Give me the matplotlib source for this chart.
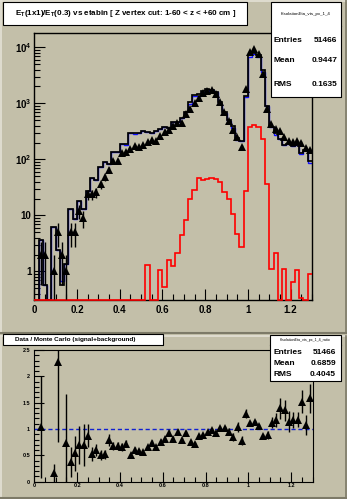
import numpy as np
import matplotlib.pyplot as plt
from matplotlib.patches import Rectangle
from matplotlib.lines import Line2D
from matplotlib.ticker import FixedLocator, FixedFormatter, MultipleLocator, NullFormatter

plt.rcParams['font.family'] = ['Liberation Sans', 'DejaVu Sans']
plt.rcParams['font.weight'] = 'bold'
plt.rcParams['mathtext.fontset'] = 'custom'
plt.rcParams['mathtext.rm'] = 'Liberation Sans:bold'
plt.rcParams['mathtext.it'] = 'Liberation Sans:bold'
plt.rcParams['mathtext.bf'] = 'Liberation Sans:bold'

W, H = 347, 499
BG = '#c3bfa9'

# 65 bins of 0.02 in etabin
edges = np.round(np.arange(66) * 0.02, 2)
centers = edges[:-1] + 0.01

data = np.array([0, 2, 2, 0, 1, 5, 2, 1, 5, 5,
                 12, 9, 24, 24, 26, 36, 48, 66, 93, 93,
                 128, 137, 153, 175, 168, 180, 201, 220, 212, 261,
                 306, 333, 387, 438, 440, 635, 803, 1022, 1256, 1500,
                 1680, 1720, 1460, 1065, 710, 488, 333, 247, 168, 1778,
                 8200, 9200, 7600, 3400, 800, 421, 343, 320, 250, 211,
                 207, 211, 200, 158, 146], dtype=float)

mc = np.array([0, 3.6, 0.57, 0, 6.1, 2.4, 0.57, 1.35, 13.3, 8.5,
               18, 13, 27, 46, 43, 72, 90, 84, 135, 135,
               192, 190, 298, 295, 292, 318, 310, 300, 326, 343,
               373, 358, 470, 460, 550, 690, 1050, 1410, 1440, 1680,
               1770, 1740, 1570, 1055, 705, 515, 392, 238, 215, 1380,
               7300, 8070, 7170, 3900, 900, 376, 293, 230, 184, 185,
               177, 179, 132, 146, 92])

mc_blue = np.array([0, 3.6, 0.57, 0, 6.1, 2.4, 0.68, 1.35, 13.3, 8.5,
                    18, 13, 27, 46, 43, 72, 90, 84, 135, 135,
                    192, 178, 298, 282, 292, 318, 310, 300, 326, 343,
                    373, 358, 470, 460, 550, 690, 990, 1330, 1360, 1590,
                    1680, 1740, 1570, 990, 665, 485, 368, 222, 215, 1300,
                    6850, 7650, 6750, 3650, 900, 376, 278, 230, 184, 185,
                    177, 179, 125, 146, 85])

signal = np.array([0] * 26 + [1.3, 0, 0, 1.05,
                   0.53, 1.59, 1.24, 2.15, 4.4, 8.2, 19.3, 28.3, 47.5, 42.7,
                   44.5, 47.5, 45.6, 40, 26.3, 20, 10.6, 4.6, 2.7, 27,
                   380, 407, 380, 230, 36, 1.13, 2.18, 0, 1.1, 0,
                   0.64, 1.05, 0.34, 0, 0.92])

nan = np.nan
ratio = np.array([nan, 1.04, nan, nan, 0.16, 2.28, nan, 0.74, 0.37, 0.54,
                  0.70, 0.70, 0.87, 0.52, 0.60, 0.51, 0.52, 0.79, 0.68, 0.68,
                  0.66, 0.72, 0.51, 0.60, 0.58, 0.56, 0.65, 0.74, 0.65, 0.76,
                  0.82, 0.93, 0.82, 0.95, 0.80, 0.92, 0.76, 0.72, 0.87, 0.89,
                  0.95, 0.99, 0.93, 1.01, 1.01, 0.95, 0.85, 1.04, 0.78, 1.29,
                  1.12, 1.14, 1.06, 0.87, 0.89, 1.12, 1.17, 1.39, 1.36, 1.14,
                  1.17, 1.18, 1.52, 1.08, 1.58])

ratio_err = np.array([nan, 0.97, nan, nan, 0.17, 1.52, nan, 0.92, 0.28, 0.33,
                      0.36, 0.40, 0.22, 0.13, 0.12, 0.10, 0.09, 0.11, 0.08, 0.08,
                      0.07, 0.07, 0.05, 0.05, 0.05, 0.05, 0.05, 0.06, 0.05, 0.05,
                      0.05, 0.06, 0.05, 0.05, 0.04, 0.04, 0.03, 0.03, 0.03, 0.03,
                      0.03, 0.03, 0.03, 0.04, 0.04, 0.06, 0.08, 0.10, 0.09, 0.09,
                      0.03, 0.03, 0.03, 0.04, 0.07, 0.11, 0.13, 0.20, 0.20, 0.20,
                      0.15, 0.15, 0.22, 0.19, 0.27])

x_ticks = [0, 0.2, 0.4, 0.6, 0.8, 1.0, 1.2]
x_labels = ['0', '0.2', '0.4', '0.6', '0.8', '1', '1.2']

fig = plt.figure(figsize=(W / 100, H / 100), dpi=100, facecolor=BG)


def fx(px):
    return px / W


def fy(py):
    return 1 - py / H


def fline(x0, y0, x1, y1, color, lw=1.0):
    fig.add_artist(Line2D([fx(x0), fx(x1)], [fy(y0), fy(y1)], color=color, lw=lw,
                          transform=fig.transFigure, zorder=1))


def pave(x0, y0, x1, y1):
    # white ROOT-style pave with a thin dark shadow
    fig.add_artist(Rectangle((fx(x0) + 1.2 / W, fy(y1) - 1.2 / H), (x1 - x0) / W, (y1 - y0) / H,
                             transform=fig.transFigure, facecolor='black', edgecolor='none', zorder=5))
    fig.add_artist(Rectangle((fx(x0), fy(y1)), (x1 - x0) / W, (y1 - y0) / H,
                             transform=fig.transFigure, facecolor='white', edgecolor='black',
                             lw=0.8, zorder=6))


def ftext(x, y, s, **kw):
    fig.text(fx(x), fy(y), s, zorder=7, **kw)


# pad bevels
fline(0.5, 0, 0.5, 333, '#e4e1d6', 1.2)
fline(0, 0.5, 347, 0.5, '#e4e1d6', 1.2)
fline(0, 332.5, 347, 332.5, '#7d7a68', 1.5)
fline(346.3, 0, 346.3, 333, '#7d7a68', 1.2)
fline(0.5, 336, 0.5, 499, '#e4e1d6', 1.2)
fline(0, 336, 347, 336, '#e4e1d6', 1.2)
fline(0, 498.3, 347, 498.3, '#7d7a68', 1.5)
fline(346.3, 336, 346.3, 499, '#7d7a68', 1.2)

# ---- top pad: distributions ----
ax1 = fig.add_axes([fx(34.3), fy(300), (312 - 34.3) / W, (300 - 33) / H])
ax1.set_facecolor('none')
ax1.set_yscale('log')
ymin, ymax = 0.31, 18000
ax1.set_xlim(0, 1.3)
ax1.set_ylim(ymin, ymax)

ax1.stairs(np.maximum(mc_blue, ymin), edges, baseline=None, color='#1010ff', lw=1.0, zorder=2)
ax1.stairs(np.maximum(mc, ymin), edges, baseline=None, color='black', lw=1.25, zorder=2.2)
ax1.stairs(np.maximum(signal, ymin), edges, baseline=None, color='#ff0000', lw=1.2, zorder=3,
           clip_on=False)

m = data > 0
err = np.sqrt(data[m])
lo = np.minimum(err, data[m] - 0.32)
ax1.errorbar(centers[m], data[m], yerr=[lo, err], fmt='^', color='black', ms=5.2, mew=0,
             elinewidth=1.0, capsize=0, zorder=4)

ax1.xaxis.set_major_locator(FixedLocator(x_ticks))
ax1.xaxis.set_major_formatter(FixedFormatter(x_labels))
ax1.xaxis.set_minor_locator(MultipleLocator(0.05))
ax1.yaxis.set_major_locator(FixedLocator([1, 10, 100, 1000, 10000]))
ax1.yaxis.set_major_formatter(FixedFormatter(['1', '10', r'$\mathregular{10^{2}}$',
                                              r'$\mathregular{10^{3}}$', r'$\mathregular{10^{4}}$']))
ax1.yaxis.set_minor_locator(FixedLocator([k * 10.0 ** d for d in range(-1, 5) for k in range(2, 10)]))
ax1.yaxis.set_minor_formatter(NullFormatter())
ax1.tick_params(which='both', direction='in', top=False, right=False, width=0.8)
ax1.tick_params(which='major', length=8, labelsize=7)
ax1.tick_params(which='minor', length=4)
ax1.tick_params(axis='x', pad=3.5)
ax1.tick_params(axis='y', pad=2)
for s in ax1.spines.values():
    s.set_linewidth(1.0)

pave(3, 2, 247, 25)
ftext(15, 13.5, r'$\mathregular{E_{T}(1x1)/E_{T}(0.3)}$ vs etabin [ Z vertex cut: 1-60 < z < +60 cm ]',
      fontsize=5.75, ha='left', va='center')

pave(271, 2, 341, 97)
fline(271, 26, 341, 26, 'black', 0.8)
ftext(306, 14, 'hIsolationEta_vts_px_1_4', fontsize=3.2, weight='normal', ha='center', va='center')
for yy, lab, val in [(40.5, 'Entries', '51466'), (61, 'Mean', '0.9447'), (84, 'RMS', '0.1635')]:
    ftext(274, yy, lab, fontsize=6, ha='left', va='center')
    ftext(337, yy, val, fontsize=6, ha='right', va='center')

# ---- bottom pad: data / MC ratio ----
ax2 = fig.add_axes([fx(34.3), fy(481.7), (312.5 - 34.3) / W, (481.7 - 350) / H])
ax2.set_facecolor('none')
ax2.set_xlim(0, 1.3)
ax2.set_ylim(0, 2.5)
ax2.plot([0, 1.3], [1, 1], color='#1020d0', lw=1.0, ls=(0, (3, 2)), zorder=2)
r = ~np.isnan(ratio)
ax2.errorbar(centers[r], ratio[r], yerr=ratio_err[r], fmt='^', color='black', ms=5.2, mew=0,
             elinewidth=1.0, capsize=0, zorder=4)
ax2.xaxis.set_major_locator(FixedLocator(x_ticks))
ax2.xaxis.set_major_formatter(FixedFormatter(x_labels))
ax2.xaxis.set_minor_locator(MultipleLocator(0.05))
ax2.yaxis.set_major_locator(FixedLocator([0, 0.5, 1, 1.5, 2, 2.5]))
ax2.yaxis.set_major_formatter(FixedFormatter(['0', '0.5', '1', '1.5', '2', '2.5']))
ax2.yaxis.set_minor_locator(MultipleLocator(0.1))
ax2.tick_params(which='both', direction='in', top=False, right=False, width=0.8)
ax2.tick_params(which='major', length=7, labelsize=4)
ax2.tick_params(which='minor', length=3.5)
ax2.tick_params(axis='x', pad=1)
ax2.tick_params(axis='y', pad=3)

pave(3, 334, 163, 345)
ftext(15, 339.5, 'Data / Monte Carlo (signal+background)', fontsize=4.6, ha='left', va='center')

pave(270, 335, 341, 381)
fline(270, 345, 341, 345, 'black', 0.8)
ftext(305.5, 340, 'hIsolationEta_vts_px_1_4_ratio', fontsize=2.6, weight='normal', ha='center', va='center')
for yy, lab, val in [(352.5, 'Entries', '51466'), (363.5, 'Mean', '0.6859'), (374.5, 'RMS', '0.4045')]:
    ftext(274, yy, lab, fontsize=6, ha='left', va='center')
    ftext(336, yy, val, fontsize=6, ha='right', va='center')

fig.savefig('out.png', dpi=100, facecolor=BG)
